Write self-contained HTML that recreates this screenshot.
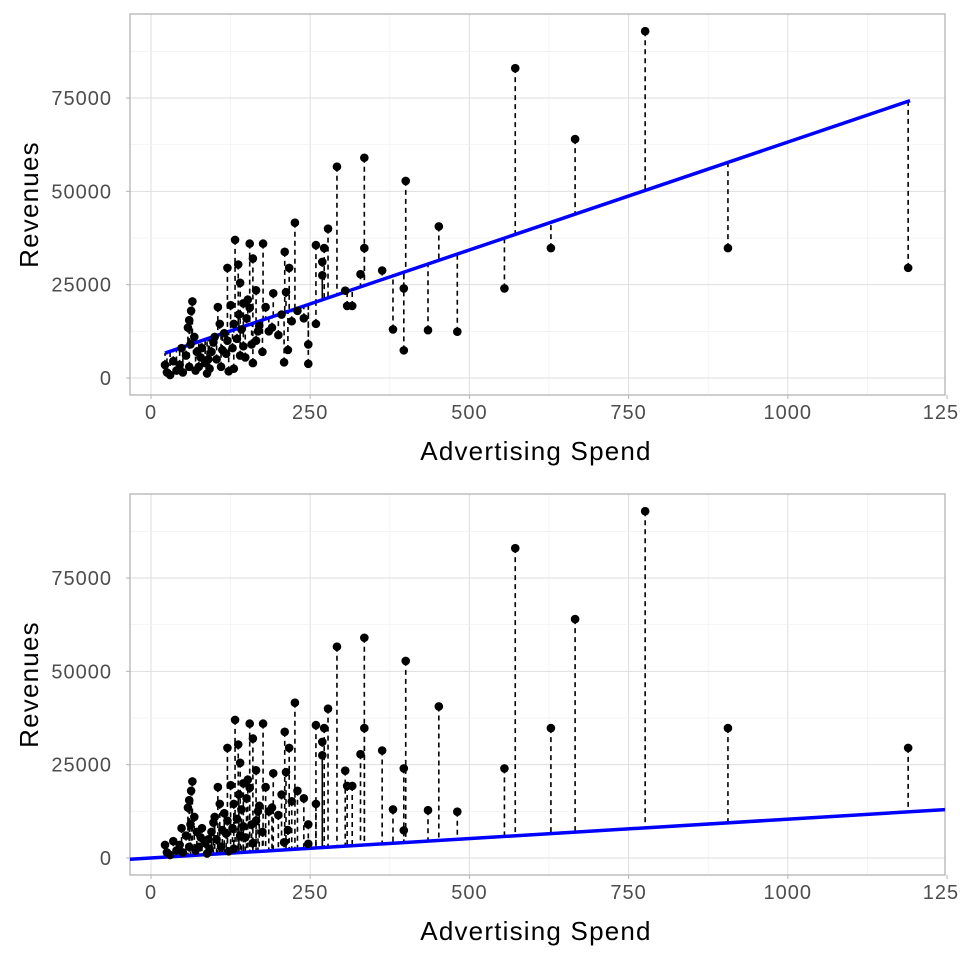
<!DOCTYPE html>
<html><head><meta charset="utf-8"><style>
html,body{margin:0;padding:0;background:#fff;}
svg{display:block;font-family:"Liberation Sans",sans-serif;}
</style></head><body>
<svg id="s" width="960" height="960" viewBox="0 0 960 960" xmlns="http://www.w3.org/2000/svg"></svg>
<script>
var pts=[[1189,29500],[906,34800],[776,92900],[666,64000],[628,34800],[572,83000],[555,24000],[481,12400],[452,40600],[435,12800],[400,52800],[397,24000],[397,7400],[380,13000],[363,28800],[335,59000],[335,34800],[329,27800],[316,19300],[308,19300],[305,23400],[292,56600],[278,40000],[272,34800],[269,31100],[269,27500],[259,35600],[259,14500],[247,9000],[247,3800],[226,41600],[221,15200],[217,29500],[212,23000],[209,4200],[215,7500],[210,33800],[192,22700],[176,36000],[155,36000],[155,18800],[137,30400],[132,37000],[140,25500],[160,32000],[120,29500],[105,19000],[65,20500],[63,18000],[60,15500],[58,13500],[170,14000],[185,12500],[200,11500],[165,10000],[150,16000],[145,20000],[125,19500],[115,12000],[100,11000],[95,7000],[90,5000],[80,8000],[75,3000],[70,2000],[50,1500],[45,3500],[40,2000],[30,800],[25,1500],[22,3500],[55,6000],[62,9000],[68,11000],[85,4000],[110,3000],[118,6500],[128,8000],[135,10500],[142,13000],[148,5500],[160,4000],[175,7000],[130,2500],[88,1200],[78,5500],[98,9500],[108,14500],[138,17000],[152,21000],[158,9000],[165,23500],[112,7500],[122,1800],[35,4500],[48,8000],[60,3000],[72,7000],[92,2500],[103,5000],[130,14500],[145,8500],[168,12500],[190,13500],[205,17000],[230,18000],[240,16000],[180,19000],[120,10000],[140,6000]];
var out='';
function panel(top,a,b,lx0){
 var L=130,R=945,T=top,B=top+381;
 var X=v=>151+v*0.6368, Y=v=>top+364-v*0.003733;
 out+='<rect x="'+L+'" y="'+T+'" width="'+(R-L)+'" height="'+(B-T)+'" fill="#fff"/>';
 for(var v=-125;v<=1375;v+=125){var x=X(v);if(x<L||x>R)continue;out+='<line x1="'+x+'" x2="'+x+'" y1="'+T+'" y2="'+B+'" stroke="'+(v%250?'#f0f0f0':'#dedede')+'" stroke-width="'+(v%250?0.7:1)+'"/>';}
 for(var v=-12500;v<=100000;v+=12500){var y=Y(v);if(y<T||y>B)continue;out+='<line x1="'+L+'" x2="'+R+'" y1="'+y+'" y2="'+y+'" stroke="'+(v%25000?'#f0f0f0':'#dedede')+'" stroke-width="'+(v%25000?0.7:1)+'"/>';}
 out+='<rect x="'+L+'" y="'+T+'" width="'+(R-L)+'" height="'+(B-T)+'" fill="none" stroke="#b3b3b3" stroke-width="1.3"/>';
 out+='<svg x="'+L+'" y="'+T+'" width="'+(R-L)+'" height="'+(B-T)+'" viewBox="'+L+' '+T+' '+(R-L)+' '+(B-T)+'" overflow="hidden">';
 pts.forEach(p=>{out+='<line x1="'+X(p[0])+'" x2="'+X(p[0])+'" y1="'+Y(p[1])+'" y2="'+Y(a+b*p[0])+'" stroke="#000" stroke-width="1.6" stroke-dasharray="5,4"/>';});
 out+='<line x1="'+X(lx0)+'" y1="'+Y(a+b*lx0)+'" x2="'+X(lx0==22?1192:1300)+'" y2="'+Y(a+b*(lx0==22?1192:1300))+'" stroke="#0000ff" stroke-width="3.5"/>';
 pts.forEach(p=>{out+='<circle cx="'+X(p[0])+'" cy="'+Y(p[1])+'" r="4.3" fill="#000"/>';});
 out+='</svg>';
 [0,250,500,750,1000,1250].forEach(v=>{var x=X(v);out+='<line x1="'+x+'" x2="'+x+'" y1="'+B+'" y2="'+(B+4)+'" stroke="#b3b3b3"/><text x="'+x+'" y="'+(B+24)+'" font-size="20" letter-spacing="1" fill="#4d4d4d" text-anchor="middle">'+v+'</text>';});
 [0,25000,50000,75000].forEach(v=>{var y=Y(v);out+='<line x1="'+(L-4)+'" x2="'+L+'" y1="'+y+'" y2="'+y+'" stroke="#b3b3b3"/><text x="'+(L-18)+'" y="'+(y+7)+'" font-size="20" letter-spacing="1" fill="#4d4d4d" text-anchor="end">'+v+'</text>';});
 out+='<text x="536" y="'+(B+65)+'" font-size="26" letter-spacing="1.2" text-anchor="middle">Advertising Spend</text>';
 out+='<text transform="translate(38,'+((T+B)/2)+') rotate(-90)" font-size="26" letter-spacing="1.2" text-anchor="middle">Revenues</text>';
}
panel(14,5400,57.8,22);
panel(494,0,10.4,-40);
document.getElementById('s').innerHTML=out;
</script>
</body></html>
